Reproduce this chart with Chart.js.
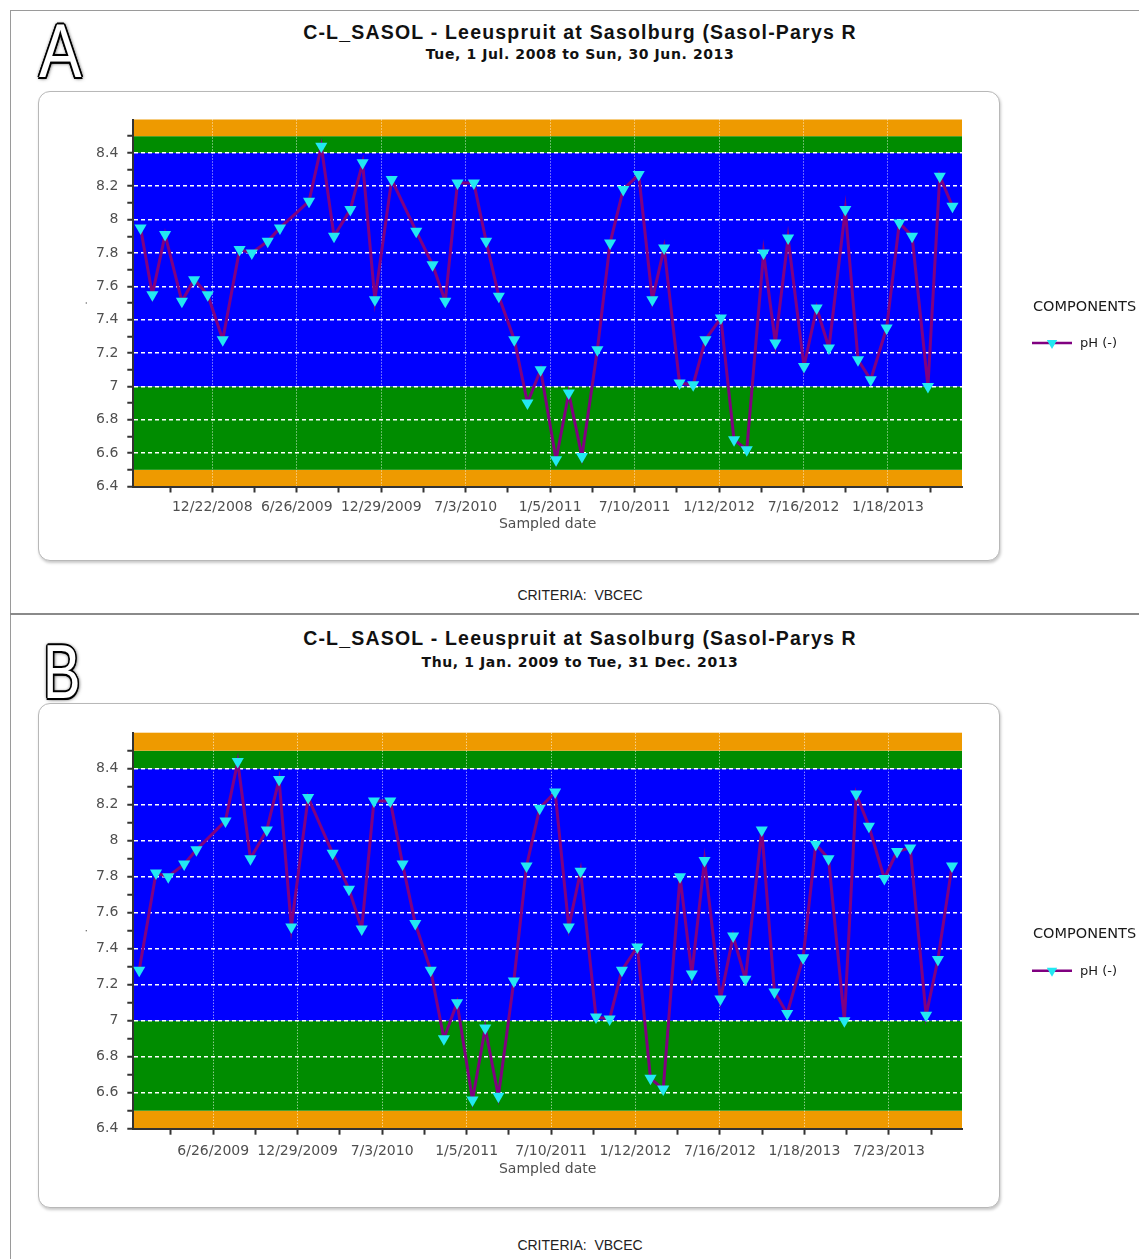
<!DOCTYPE html>
<html><head><meta charset="utf-8">
<script src="https://cdn.jsdelivr.net/npm/chart.js@4.4.1/dist/chart.umd.min.js"></script>
<style>
html,body{margin:0;padding:0;background:#fff;}
body{width:1139px;height:1259px;overflow:hidden;position:relative;font-family:'Liberation Sans',Arial,sans-serif;}
.line{position:absolute;background:#9a9a9a;}
.frame{position:absolute;left:38px;width:960px;border:1.5px solid #b8b8b8;border-radius:12px;box-shadow:1px 2px 3px rgba(0,0,0,0.22);background:#fff;}
.title{position:absolute;left:0;width:1160px;text-align:center;font-weight:bold;font-size:19.5px;line-height:20px;letter-spacing:1.2px;color:#111;white-space:nowrap;}
.sub{position:absolute;left:0;width:1160px;text-align:center;font-family:'DejaVu Sans',sans-serif;font-weight:bold;font-size:14px;line-height:16px;letter-spacing:0.6px;color:#111;white-space:nowrap;}
.crit{position:absolute;left:0;width:1160px;text-align:center;font-size:14px;line-height:14px;color:#222;white-space:nowrap;}
.letter{position:absolute;font-family:'Liberation Sans',Arial,sans-serif;font-weight:normal;font-size:76px;line-height:76px;color:#fff;transform-origin:0 0;
 text-shadow:2px 0 0 #000,-2px 0 0 #000,0 2px 0 #000,0 -2px 0 #000,1.5px 1.5px 0 #000,-1.5px 1.5px 0 #000,1.5px -1.5px 0 #000,-1.5px -1.5px 0 #000,0 0 4px #000,1px 1px 5px rgba(0,0,0,0.8);}
canvas{position:absolute;left:0;}
</style>
</head><body>
<div class="line" style="left:10px;top:10px;width:1129px;height:1px;"></div>
<div class="line" style="left:10px;top:10px;width:1px;height:1249px;"></div>
<div class="line" style="left:10px;top:613px;width:1129px;height:2px;background:#8a8a8a;"></div>

<div class="letter" style="left:39px;top:13px;transform:scaleX(0.84);">A</div>
<div class="title" style="top:22px;">C-L_SASOL - Leeuspruit at Sasolburg (Sasol-Parys R</div>
<div class="sub" style="top:46px;">Tue, 1 Jul. 2008 to Sun, 30 Jun. 2013</div>
<div class="frame" style="top:91px;height:468px;"></div>
<div class="crit" style="top:588px;">CRITERIA:&nbsp;&nbsp;VBCEC</div>

<div class="letter" style="left:43px;top:634px;transform:scaleX(0.74);">B</div>
<div class="title" style="top:628px;">C-L_SASOL - Leeuspruit at Sasolburg (Sasol-Parys R</div>
<div class="sub" style="top:654px;">Thu, 1 Jan. 2009 to Tue, 31 Dec. 2013</div>
<div class="frame" style="top:703px;height:503px;"></div>
<div class="crit" style="top:1238px;">CRITERIA:&nbsp;&nbsp;VBCEC</div>

<canvas id="chartA" width="1139" height="475" style="top:90px;"></canvas>
<canvas id="chartB" width="1139" height="505" style="top:700px;"></canvas>

<script>
// ---------------- data ----------------
const sampleDates = [
 '2008-07-17','2008-08-12','2008-09-09','2008-10-16','2008-11-12','2008-12-12',
 '2009-01-14','2009-02-20','2009-03-19','2009-04-23','2009-05-20','2009-07-23','2009-08-19','2009-09-16','2009-10-22','2009-11-18','2009-12-15',
 '2010-01-21','2010-03-16','2010-04-21','2010-05-19','2010-06-15','2010-07-21','2010-08-17','2010-09-14','2010-10-18','2010-11-16','2010-12-15',
 '2011-01-18','2011-02-15','2011-03-16','2011-04-19','2011-05-17','2011-06-15','2011-07-19','2011-08-18','2011-09-13','2011-10-17','2011-11-16','2011-12-13',
 '2012-01-16','2012-02-14','2012-03-13','2012-04-19','2012-05-15','2012-06-12','2012-07-17','2012-08-14','2012-09-10','2012-10-16','2012-11-13','2012-12-11',
 '2013-01-15','2013-02-12','2013-03-12','2013-04-16','2013-05-12','2013-06-09','2013-07-13','2013-08-10','2013-09-08','2013-10-13','2013-11-08','2013-12-09'
];
const phValues = [
 7.95,7.55,7.91,7.51,7.64,7.55,
 7.28,7.82,7.80,7.87,7.95,8.11,8.44,7.90,8.06,8.34,7.52,
 8.24,7.93,7.73,7.51,8.22,8.22,7.87,7.54,7.28,6.90,7.10,
 6.56,6.96,6.58,7.22,7.86,8.18,8.27,7.52,7.83,7.02,7.01,7.28,
 7.41,6.68,6.62,7.80,7.26,7.89,7.12,7.47,7.23,8.06,7.16,7.04,
 7.35,7.98,7.90,7.00,8.26,8.08,7.79,7.94,7.96,7.03,7.34,7.86
];
const seriesName = 'pH (-)';
const legendTitle = 'COMPONENTS';
const xAxisTitle = 'Sampled date';
const yAxisTitle = '.';
const rangeA = ['2008-07-01','2013-06-30'];
const rangeB = ['2009-01-01','2013-12-31'];
const xTickLabelsA = ['12/22/2008','6/26/2009','12/29/2009','7/3/2010','1/5/2011','7/10/2011','1/12/2012','7/16/2012','1/18/2013'];
const xTickLabelsB = ['6/26/2009','12/29/2009','7/3/2010','1/5/2011','7/10/2011','1/12/2012','7/16/2012','1/18/2013','7/23/2013'];
const yTickValues = [6.4,6.5,6.6,6.7,6.8,6.9,7.0,7.1,7.2,7.3,7.4,7.5,7.6,7.7,7.8,7.9,8.0,8.1,8.2,8.3,8.4,8.5,8.6];
const yTickLabels = ['6.4','6.6','6.8','7','7.2','7.4','7.6','7.8','8','8.2','8.4'];
const yGridValues = [6.6,6.8,7.0,7.2,7.4,7.6,7.8,8.0,8.2,8.4];
const bandLow = [6.4, 6.5, 7.0, 8.4, 8.5];
const bandHigh = [6.5, 7.0, 8.4, 8.5, 8.6];
const bandColors = ['#EE9A00','#008C00','#0000FF','#008C00','#EE9A00'];

// ---------------- helpers ----------------
function dayNum(s){
  let y,m,d;
  if (s.indexOf('/')>=0){ const p=s.split('/'); m=+p[0]; d=+p[1]; y=+p[2]; }
  else { const p=s.split('-'); y=+p[0]; m=+p[1]; d=+p[2]; }
  return Date.UTC(y,m-1,d)/86400000;
}
const LINE_COLOR = '#800080';
const MARK_COLOR = '#22E8F2';
const TEXT_COLOR = '#4f4f4f';
const key = v => Math.round(v*1000);

const bandsPlugin = {
  id:'bands',
  beforeDraw(chart){
    const {ctx, chartArea:a, scales:{y}} = chart;
    ctx.save();
    for (let i=0;i<bandLow.length;i++){
      const y1=y.getPixelForValue(bandHigh[i]), y2=y.getPixelForValue(bandLow[i]);
      ctx.fillStyle=bandColors[i];
      ctx.fillRect(a.left, y1, a.right-a.left, y2-y1);
    }
    ctx.restore();
  }
};
const legendPlugin = {
  id:'sideLegend',
  afterDraw(chart){
    const {ctx, chartArea:a} = chart;
    const cy = (a.top+a.bottom)/2;
    ctx.save();
    ctx.fillStyle='#1a1a1a';
    ctx.font='14.5px "DejaVu Sans"';
    ctx.textBaseline='middle';
    ctx.textAlign='left';
    ctx.fillText(legendTitle, 1033, cy+4);
    const ly = cy+40;
    ctx.strokeStyle=LINE_COLOR; ctx.lineWidth=2.5;
    ctx.beginPath(); ctx.moveTo(1032,ly); ctx.lineTo(1072,ly); ctx.stroke();
    const r=6;
    ctx.fillStyle=MARK_COLOR;
    ctx.beginPath();
    ctx.moveTo(1052, ly+r);
    ctx.lineTo(1052+r*0.866, ly-r/2);
    ctx.lineTo(1052-r*0.866, ly-r/2);
    ctx.closePath(); ctx.fill();
    ctx.fillStyle='#1a1a1a';
    ctx.font='13px "DejaVu Sans"';
    ctx.fillText(seriesName, 1080, ly+1);
    ctx.restore();
  }
};

function buildChart(id, range, tickLabels, padTop, padBottom, labelPad, titlePad){
  const minD = dayNum(range[0]), maxD = dayNum(range[1]);
  const pts = sampleDates.map((d,i)=>({x:dayNum(d), y:phValues[i]})).filter(p=>p.x>=minD && p.x<=maxD);
  const labeled = tickLabels.map(dayNum);
  const half = (labeled[1]-labeled[0])/2;
  const tickVals = [labeled[0]-half];
  labeled.forEach((v,i)=>{ tickVals.push(v); tickVals.push(i<labeled.length-1 ? (v+labeled[i+1])/2 : v+half); });
  const labelMap = new Map(labeled.map((v,i)=>[v, tickLabels[i]]));
  const yLabelMap = new Map(yTickLabels.map(t=>[key(parseFloat(t)), t]));
  const yGridSet = new Set(yGridValues.map(key));
  const font = {family:'DejaVu Sans', size:14};

  return new Chart(document.getElementById(id), {
    type:'line',
    data:{ datasets:[{
      label:seriesName, data:pts,
      borderColor:LINE_COLOR, borderWidth:3, tension:0,
      borderJoinStyle:'miter',
      pointStyle:'triangle', rotation:180, pointRadius:7,
      pointBackgroundColor:MARK_COLOR, pointBorderColor:MARK_COLOR, pointBorderWidth:0,
      pointHoverRadius:7
    }]},
    options:{
      responsive:false, animation:false, devicePixelRatio:1,
      layout:{padding:{left:0, right:177, top:padTop, bottom:padBottom}},
      plugins:{legend:{display:false}, tooltip:{enabled:false}},
      scales:{
        x:{
          type:'linear', min:minD, max:maxD,
          afterBuildTicks: s => { s.ticks = tickVals.map(v=>({value:v})); },
          afterFit: s => { s.height = 55; },
          ticks:{autoSkip:false, maxRotation:0, minRotation:0, padding:labelPad, color:TEXT_COLOR, font:font,
                 callback: v => labelMap.get(v) || ''},
          grid:{
            color: c => (c.tick && labelMap.has(c.tick.value)) ? 'rgba(255,255,255,0.8)' : 'rgba(0,0,0,0)',
            lineWidth:1, borderDash:[1,2], tickLength:6, tickWidth:2, tickColor:'#333', tickBorderDash:[]
          },
          border:{display:true, color:'#333', width:2, dash:[1,2]},
          title:{display:true, text:xAxisTitle, color:TEXT_COLOR, font:font, padding:{top:0, bottom:titlePad}}
        },
        y:{
          type:'linear', min:6.4, max:8.6,
          afterBuildTicks: s => { s.ticks = yTickValues.map(v=>({value:v})); },
          afterFit: s => { s.width = 133.3; },
          ticks:{autoSkip:false, padding:9, color:TEXT_COLOR, font:font,
                 callback: v => yLabelMap.get(key(v)) || ''},
          grid:{
            color: c => (c.tick && yGridSet.has(key(c.tick.value))) ? '#ffffff' : 'rgba(0,0,0,0)',
            lineWidth:1.5, borderDash:[4,3], tickLength:6, tickWidth:2,
            tickColor: c => (c.tick && c.tick.value > 8.55) ? 'rgba(0,0,0,0)' : '#333', tickBorderDash:[]
          },
          border:{display:true, color:'#333', width:2, dash:[4,3]},
          title:{display:true, text:yAxisTitle, color:TEXT_COLOR, font:{family:'DejaVu Sans', size:10}, padding:{top:78, bottom:0}}
        }
      }
    },
    plugins:[bandsPlugin, legendPlugin]
  });
}

buildChart('chartA', rangeA, xTickLabelsA, 29.5, 23.5, 6, 9);
buildChart('chartB', rangeB, xTickLabelsB, 32.7, 21.3, 8, 6.3);
</script>
</body></html>
